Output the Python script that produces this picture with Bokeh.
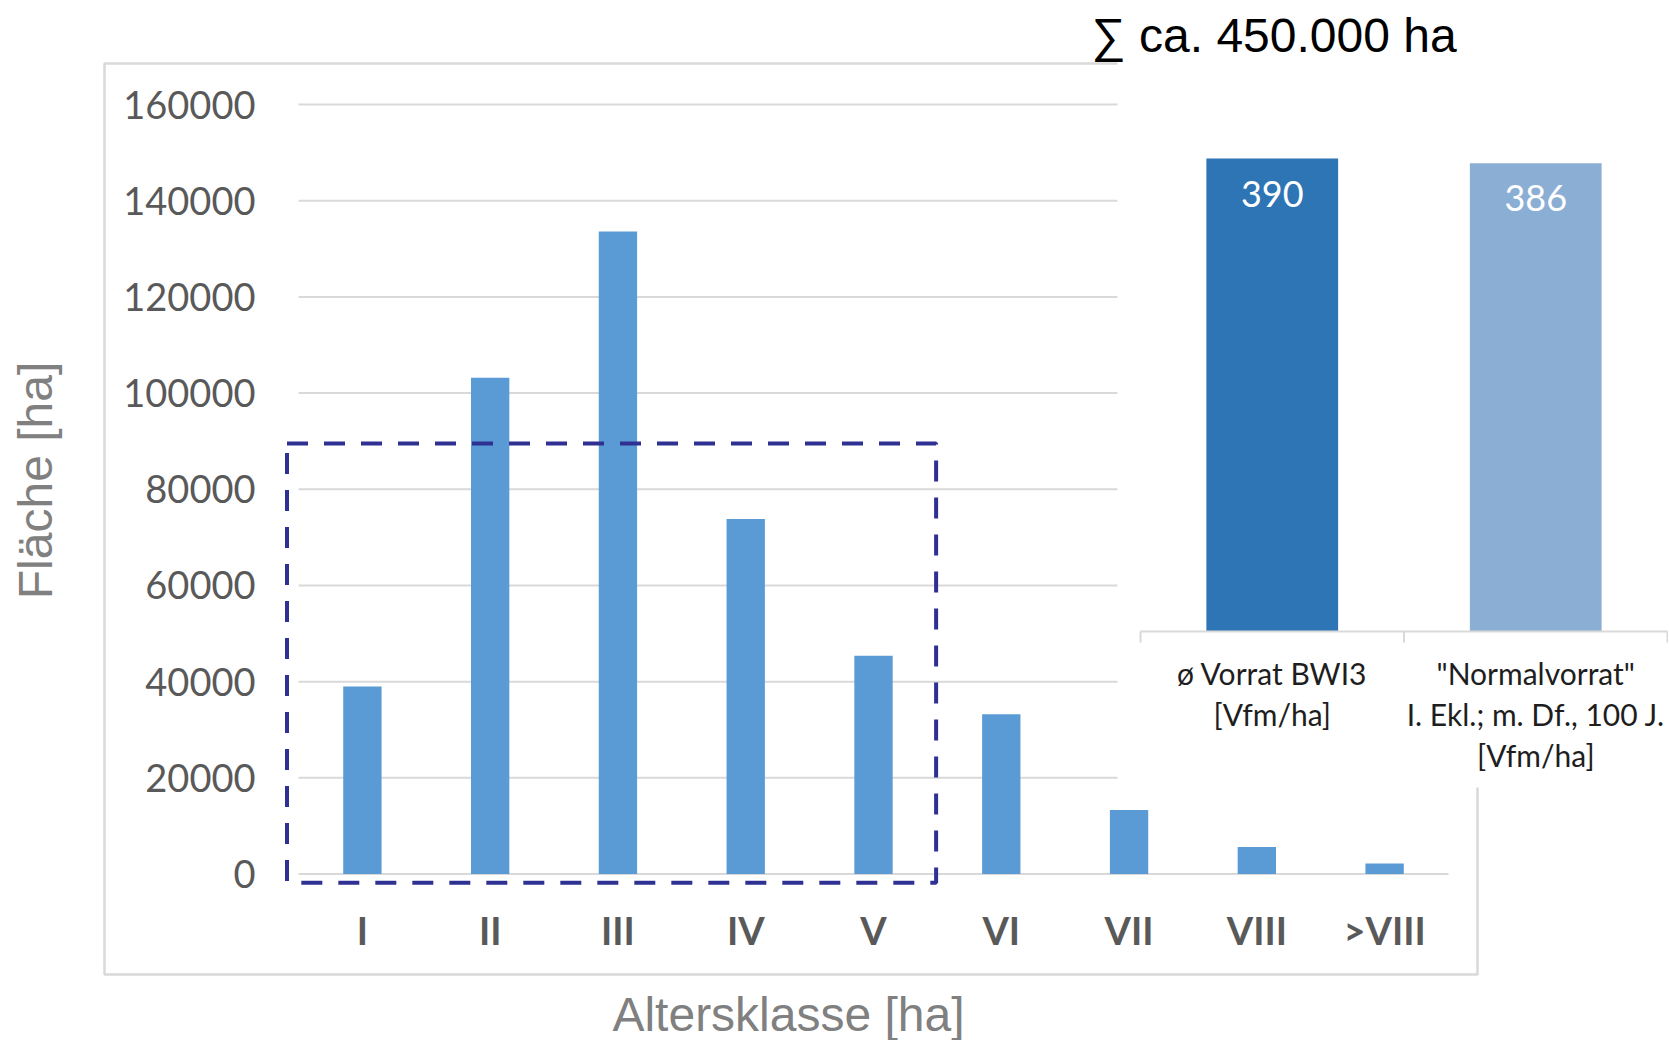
import math
from bokeh.plotting import figure
from bokeh.models import Range1d, FixedTicker, BasicTickFormatter
from bokeh.core.properties import value
from bokeh.embed import file_html
from bokeh.resources import INLINE

# ---------------- data ----------------
age_classes = ["I", "II", "III", "IV", "V", "VI", "VII", "VIII", ">VIII"]
area_ha = [39000, 103200, 133600, 73800, 45400, 33200, 13300, 5600, 2200]
y_ticks = [0, 20000, 40000, 60000, 80000, 100000, 120000, 140000, 160000]

stock_labels = ["ø Vorrat BWI3\n[Vfm/ha]",
                "\"Normalvorrat\"\nI. Ekl.; m. Df., 100 J.\n[Vfm/ha]"]
stock_values = [390, 386]
stock_colors = ["#2E75B6", "#8BAED5"]

# highlighted region (age classes I-V, up to ~89 500 ha)
highlight_x = [-0.09, 4.99]
highlight_y = [-1800, 89500]

total_text = "∑ ca. 450.000 ha"
y_title = "Fläche [ha]"
x_title = "Altersklasse [ha]"

# ---------------- layout (pixels in figure) ----------------
W, H = 1668, 1040
FL, FR, FT, FB = 278, W, 0, 888               # frame
CAT_L, CAT_R = 298.0, 1448.0                  # extent of the 9 classes
Y0_PX, YTOP_PX = 873.5, 104.0                 # pixel of 0 and 160000
ppx = (CAT_R - CAT_L) / len(age_classes)
ppy = (Y0_PX - YTOP_PX) / y_ticks[-1]

def px2x(fx):
    return (fx - CAT_L) / ppx

def px2y(fy):
    return (Y0_PX - fy) / ppy

# inset scales
IN_L, IN_R = 1140.0, 1667.0
IN_Y0 = 631.0
in_ppx = (IN_R - IN_L) / len(stock_values)
in_ppy = 473.0 / 390.0

p = figure(width=W, height=H, output_backend="svg", toolbar_location=None,
           x_range=Range1d(px2x(FL), px2x(FR)),
           y_range=Range1d(px2y(FB), px2y(FT)),
           min_border_left=FL, min_border_right=W - FR,
           min_border_top=FT, min_border_bottom=H - FB)
p.extra_x_ranges = {"inset_x": Range1d((FL - IN_L) / in_ppx, (FR - IN_L) / in_ppx)}
p.extra_y_ranges = {"inset_y": Range1d(-(FB - IN_Y0) / in_ppy, (IN_Y0 - FT) / in_ppy)}
p.outline_line_color = None
p.background_fill_color = "white"
p.border_fill_color = "white"
p.xgrid.visible = False
p.ygrid.visible = False

# x axis (age classes)
xax = p.xaxis[0]
xax.ticker = FixedTicker(ticks=[i + 0.5 for i in range(len(age_classes))])
xax.major_label_overrides = {i + 0.5: c for i, c in enumerate(age_classes)}
xax.axis_line_color = None
xax.major_tick_line_color = None
xax.minor_tick_line_color = None
xax.major_tick_out = 0
xax.major_label_text_font = "Lato"
xax.major_label_text_font_style = "bold"
xax.major_label_text_font_size = "38px"
xax.major_label_text_color = "#595959"
xax.major_label_standoff = 18

# y axis (area)
yax = p.yaxis[0]
yax.ticker = FixedTicker(ticks=y_ticks)
yax.formatter = BasicTickFormatter(use_scientific=False)
yax.axis_line_color = None
yax.major_tick_line_color = None
yax.minor_tick_line_color = None
yax.major_tick_out = 0
yax.major_label_text_font = "Lato"
yax.major_label_text_font_size = "38px"
yax.major_label_text_color = "#595959"
yax.major_label_standoff = 23

# gridlines over the extent of the classes
p.segment(x0=0, x1=len(age_classes), y0=y_ticks, y1=y_ticks,
          line_color="#D9D9D9", line_width=2)

# bars
xs = [i + 0.5 for i in range(len(age_classes))]
p.vbar(x=xs, top=area_ha, bottom=0, width=0.3, fill_color="#5B9BD5", line_color=None)

# dashed highlight box
p.quad(left=highlight_x[0], right=highlight_x[1], bottom=highlight_y[0], top=highlight_y[1],
       fill_color=None, line_color="#2E3192", line_width=4, line_dash="21 16")

# chart area border
p.quad(left=px2x(104), right=px2x(1477), bottom=px2y(974), top=px2y(63),
       fill_color=None, line_color="#D9D9D9", line_width=2.5, level="overlay")

# axis titles
p.text(x=px2x(35), y=px2y(480), text=[y_title], angle=math.pi / 2,
       text_align="center", text_baseline="middle",
       text_font=value("Liberation Sans"), text_font_size="48px",
       text_color="#808080", level="overlay")
p.text(x=px2x(788), y=px2y(1014), text=[x_title],
       text_align="center", text_baseline="middle",
       text_font=value("Liberation Sans"), text_font_size="48px",
       text_color="#808080", level="overlay")

# ---------------- inset ----------------
p.quad(left=px2x(1117), right=px2x(W + 5), bottom=px2y(787), top=px2y(-5),
       fill_color="white", line_color=None, level="overlay")

ix = [i + 0.5 for i in range(len(stock_values))]
p.vbar(x=ix, top=stock_values, bottom=0, width=0.5, fill_color=stock_colors, line_color=None,
       x_range_name="inset_x", y_range_name="inset_y", level="overlay")
p.text(x=ix, y=stock_values, text=[str(v) for v in stock_values],
       text_align="center", text_baseline="middle", y_offset=35,
       text_font=value("Lato"), text_font_size="36px", text_color="white",
       x_range_name="inset_x", y_range_name="inset_y", level="overlay")

edges = list(range(len(stock_values) + 1))
p.segment(x0=edges[0], x1=edges[-1], y0=0, y1=0, line_color="#D9D9D9", line_width=2,
          x_range_name="inset_x", y_range_name="inset_y", level="overlay")
p.segment(x0=edges, x1=edges, y0=0, y1=-11 / in_ppy, line_color="#D9D9D9", line_width=2,
          x_range_name="inset_x", y_range_name="inset_y", level="overlay")
p.text(x=ix, y=0, text=stock_labels, text_align="center", text_baseline="top",
       y_offset=23, text_line_height=1.15,
       text_font=value("Lato"), text_font_size="30px", text_color="#1E1E1E",
       x_range_name="inset_x", y_range_name="inset_y", level="overlay")

p.text(x=px2x(1091), y=px2y(35), text=[total_text], text_align="left",
       text_baseline="middle", text_font=value("Liberation Sans"),
       text_font_size="48px", text_color="black", level="overlay")

open("out.html", "w").write(file_html(p, INLINE))
